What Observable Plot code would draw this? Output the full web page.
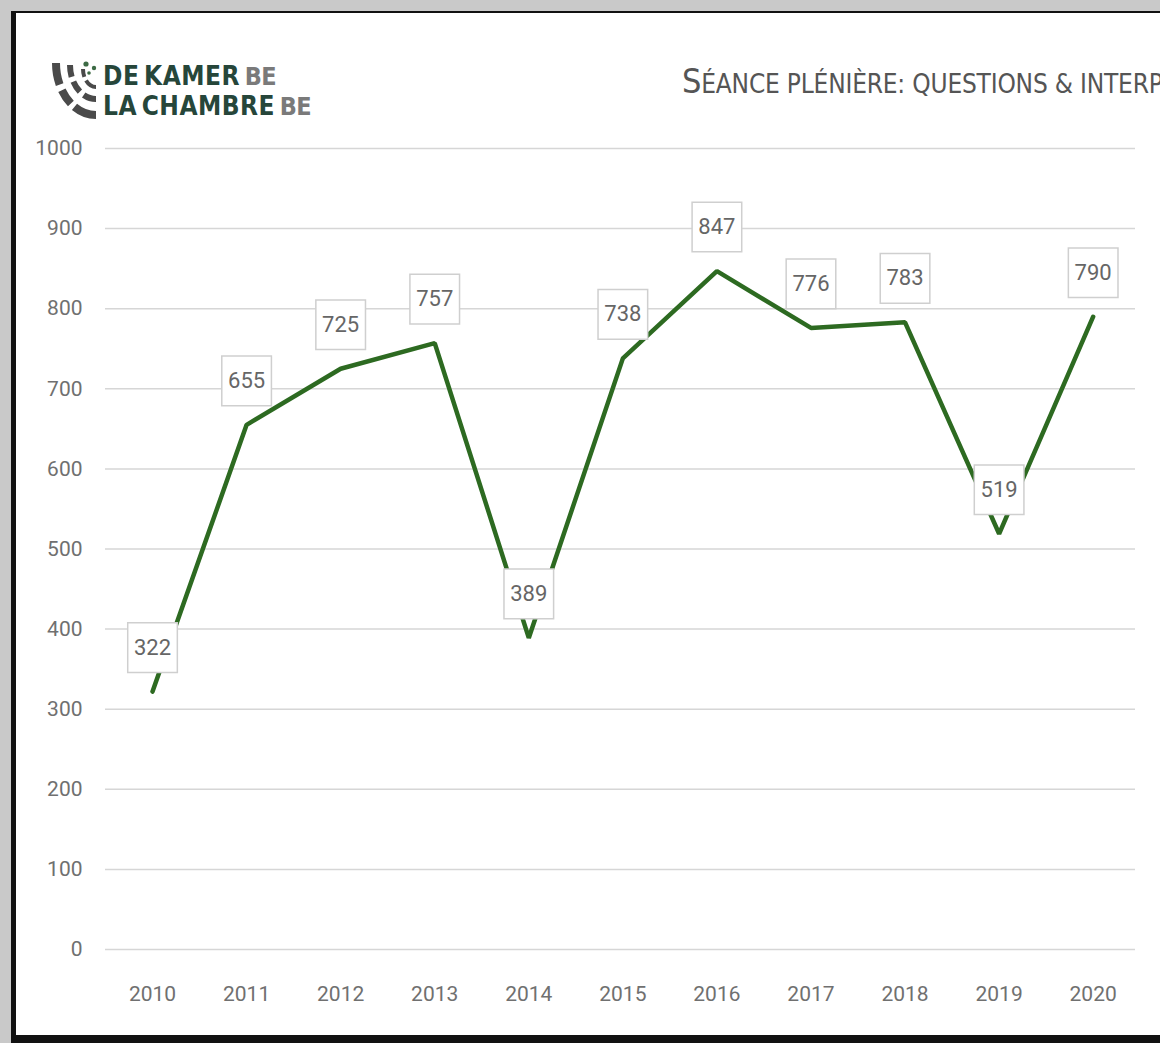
<!DOCTYPE html>
<html>
<head>
<meta charset="utf-8">
<script src="https://cdn.jsdelivr.net/npm/d3@7"></script>
<script src="https://cdn.jsdelivr.net/npm/@observablehq/plot@0.6"></script>
<style>
  html, body { margin: 0; padding: 0; }
  body { width: 1160px; height: 1043px; overflow: hidden; background: #c9c9c9; position: relative;
         font-family: "DejaVu Sans Condensed", "DejaVu Sans", sans-serif; }
  #frame { position: absolute; left: 11px; top: 11px; width: 1160px; height: 1022px;
           background: #fff; border-left: 5px solid #111; border-top: 2px solid #111; border-bottom: 9px solid #111; }
  #chart { position: absolute; left: 0; top: 0; }
  #title { position: absolute; left: 682px; top: 62px; white-space: nowrap; font-size: 26px; line-height: 38px;
           color: #555; letter-spacing: -0.2px; }
  #title .cap { font-size: 34px; }
  #logo { position: absolute; left: 45px; top: 55px; }
  .logoline { position: absolute; left: 103px; font-weight: bold; font-size: 26px; line-height: 26px;
              color: #26463a; letter-spacing: 0.5px; white-space: nowrap; word-spacing: -4px; }
  .logoline span { color: #7a7a7a; font-size: 25px; letter-spacing: -0.5px; }
</style>
</head>
<body>
<div id="frame"></div>
<svg id="logo" width="70" height="70" viewBox="0 0 70 70">
  <g fill="none" stroke="#4a4a4a" stroke-linecap="butt">
    <path d="M11 8 A 40 52 0 0 0 51 60" stroke-width="8" stroke-dasharray="22 6 16 5 40"/>
    <path d="M25 10 A 26 34 0 0 0 51 44" stroke-width="6" stroke-dasharray="12 5 12 5 30"/>
    <path d="M38 14 A 13 18 0 0 0 51 32" stroke-width="4" stroke-dasharray="8 4 20"/>
  </g>
  <circle cx="41" cy="9" r="2.6" fill="#3d6b45"/>
  <circle cx="49" cy="13" r="2.2" fill="#3d6b45"/>
  <circle cx="44" cy="18" r="1.8" fill="#3d6b45"/>
</svg>
<div class="logoline" style="top:63px">DE KAMER <span>BE</span></div>
<div class="logoline" style="top:93px">LA CHAMBRE <span>BE</span></div>
<div id="title"><span class="cap">S</span>ÉANCE PLÉNIÈRE: QUESTIONS &amp; INTERPELLATIONS</div>
<div id="chart"></div>
<script>
const years = [2010, 2011, 2012, 2013, 2014, 2015, 2016, 2017, 2018, 2019, 2020];
const values = [322, 655, 725, 757, 389, 738, 847, 776, 783, 519, 790];
const yTicks = [0, 100, 200, 300, 400, 500, 600, 700, 800, 900, 1000];

const data = years.map((year, i) => ({year, value: values[i]}));
const font = 'Roboto, "Noto Sans", sans-serif';

const chart = Plot.plot({
  width: 1160,
  height: 1043,
  marginLeft: 105,
  marginRight: 25,
  marginTop: 148,
  marginBottom: 94,
  style: {background: "transparent", fontFamily: font, fontSize: "22px", color: "#707070"},
  x: {type: "linear", domain: [2009.5, 2020.45]},
  y: {domain: [0, 1000]},
  marks: [
    Plot.ruleY(yTicks, {stroke: "#d6d6d6", strokeWidth: 1.5}),
    Plot.axisX(years, {tickSize: 0, tickPadding: 37, tickFormat: d => String(d), label: null, fill: "#707070", fontSize: 21}),
    Plot.axisY(yTicks, {tickSize: 0, tickPadding: 23, tickFormat: d => String(d), label: null, fill: "#707070", fontSize: 21}),
    Plot.line(data, {x: "year", y: "value", stroke: "#2d6a21", strokeWidth: 4.5, strokeLinejoin: "miter"}),
    Plot.dot(data, {x: "year", y: "value", dy: -44, symbol: "square", r: 28, fill: "white", stroke: "#cfcfcf", strokeWidth: 1.5}),
    Plot.text(data, {x: "year", y: "value", dy: -44, text: d => String(d.value), fill: "#666", fontSize: 22})
  ]
});
document.getElementById("chart").appendChild(chart);
</script>
</body>
</html>
